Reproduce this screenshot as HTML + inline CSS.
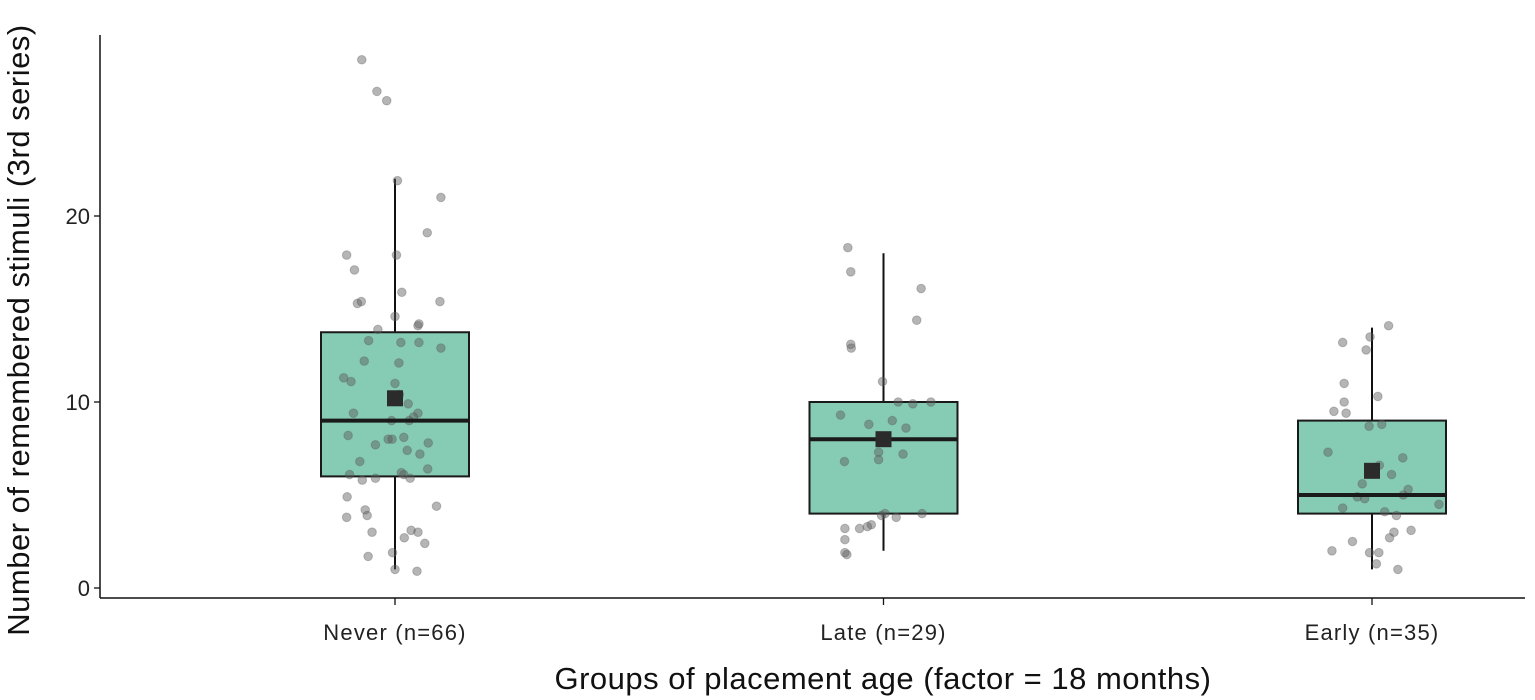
<!DOCTYPE html>
<html><head><meta charset="utf-8"><style>
html,body{margin:0;padding:0;background:#fff;}
svg{display:block;font-family:"Liberation Sans",sans-serif;}
</style></head><body>
<svg id="chart" width="1535" height="700" viewBox="0 0 1535 700"></svg>
<script>
const categories = ["Never (n=66)", "Late (n=29)", "Early (n=35)"];
const q1 = [6, 4, 4];
const medians = [9, 8, 5];
const q3 = [13.75, 10, 9];
const whiskerLow = [1, 2, 1];
const whiskerHigh = [22, 18, 14];
const means = [10.2, 8, 6.3];
const yTicks = [0, 10, 20];
// jittered observations: group index, jitter offset (category units), value
const ptGroup = [
0,0,0,0,0,0,0,0,0,0,0,0,0,0,0,0,0,0,0,0,0,0,0,0,0,0,0,0,0,0,0,0,0,0,0,0,0,0,0,0,0,0,0,0,0,0,0,0,0,0,0,0,0,0,0,0,0,0,0,0,0,0,0,0,
1,1,1,1,1,1,1,1,1,1,1,1,1,1,1,1,1,1,1,1,1,1,1,1,1,1,1,1,1,
2,2,2,2,2,2,2,2,2,2,2,2,2,2,2,2,2,2,2,2,2,2,2,2,2,2,2,2,2,2,2,2,2,2,2];
const ptJitter = [
-0.068,-0.037,-0.017,0.005,0.094,0.066,-0.099,0.003,-0.083,0.014,-0.069,-0.077,0.092,0.0,0.047,-0.035,0.049,
-0.054,0.012,0.049,0.094,-0.063,0.008,-0.105,-0.09,0.009,0.027,0.047,0.038,-0.007,-0.085,0.029,-0.096,0.018,-0.04,-0.014,-0.006,0.025,0.051,0.068,-0.072,0.018,0.067,
-0.098,-0.099,-0.061,-0.057,0.085,-0.047,0.019,0.033,0.047,0.061,-0.005,-0.055,0.0,0.045,0.031,-0.04,0.013,-0.093,-0.067,
0.0,0.0,
-0.073,-0.067,0.077,0.068,-0.067,-0.066,-0.002,-0.088,0.03,-0.03,0.018,0.06,-0.01,-0.08,0.046,0.097,
-0.079,-0.079,-0.079,-0.075,-0.049,-0.025,-0.004,-0.033,0.026,0.079,-0.01,0.04,0.003,
0.034,-0.06,-0.004,-0.012,-0.057,-0.057,0.012,-0.078,-0.053,-0.006,0.063,0.015,-0.09,0.04,0.074,-0.03,-0.005,
-0.082,0.014,0.053,0.009,0.045,0.036,0.026,0.064,0.137,-0.06,-0.02,0.02,-0.015,-0.04,0.05,0.08,0.09,-0.03];
const ptValue = [
28.4,26.7,26.2,21.9,21.0,19.1,17.9,17.9,17.1,15.9,15.4,15.3,15.4,14.6,14.1,13.9,14.2,
13.3,13.2,13.2,12.9,12.2,12.1,11.3,11.1,10.4,9.9,9.4,9.2,9.0,9.4,9.0,8.2,8.1,7.7,8.0,8.0,7.4,7.2,7.8,6.8,6.1,6.4,
4.9,3.8,4.2,3.9,4.4,3.0,2.7,3.1,3.0,2.4,1.9,1.7,1.0,0.9,5.9,5.9,6.2,6.1,5.8,
11.0,10.2,
18.3,17.0,16.1,14.4,13.1,12.9,11.1,9.3,10.0,8.8,9.0,9.9,7.3,6.8,8.6,10.0,
3.2,2.6,1.9,1.8,3.2,3.4,3.9,3.3,3.8,4.0,6.9,7.2,4.0,
14.1,13.2,13.5,12.8,11.0,10.0,10.3,9.5,9.4,8.7,7.0,6.6,7.3,6.1,5.3,4.9,
1.9,2.0,1.9,1.0,1.3,3.0,2.7,4.1,5.0,4.5,4.3,5.6,8.8,4.8,2.5,3.9,3.1];

const NS = "http://www.w3.org/2000/svg";
const svg = document.getElementById("chart");
const plotL = 100, plotR = 1525, plotT = 35, plotB = 598;
const y = v => 588 - v * 18.6;
const catX = i => 395 + i * 488.5;
const bandPx = 488.5;
const boxHalf = 74;
function mk(tag, attrs, parent) {
  const el = document.createElementNS(NS, tag);
  for (const k in attrs) el.setAttribute(k, attrs[k]);
  (parent || svg).appendChild(el);
  return el;
}
let ax = mk("line", {x1: plotL, y1: plotT, x2: plotL, y2: plotB, stroke: "#111", "stroke-width": 1.5});


ax = mk("line", {x1: plotL, y1: plotB, x2: plotR, y2: plotB, stroke: "#111", "stroke-width": 1.5});


yTicks.forEach(t => {
  const tk = mk("line", {x1: plotL - 6, x2: plotL, y1: y(t), y2: y(t), stroke: "#111", "stroke-width": 1.3});
  
  
  const tl = mk("text", {x: plotL - 10, y: y(t) + 8, "text-anchor": "end", "font-size": 22, fill: "#222"});
  tl.textContent = t;
  
  
});
categories.forEach((c, i) => {
  const cx = catX(i);
  const tk = mk("line", {x1: cx, x2: cx, y1: plotB, y2: plotB + 7, stroke: "#111", "stroke-width": 1.3});
  
  
  const tl = mk("text", {x: cx, y: 640, "text-anchor": "middle", "font-size": 22, "letter-spacing": 1.2, fill: "#222"});
  tl.textContent = c;
  
  
  const w = mk("line", {x1: cx, x2: cx, y1: y(whiskerLow[i]), y2: y(whiskerHigh[i]), stroke: "#111", "stroke-width": 2});
  
  
  const b = mk("rect", {x: cx - boxHalf, y: y(q3[i]), width: boxHalf * 2, height: y(q1[i]) - y(q3[i]), fill: "#86cbb4", stroke: "#1a1a1a", "stroke-width": 2});
  
  
});
ptValue.forEach((v, k) => {
  const p = mk("circle", {cx: catX(ptGroup[k]) + ptJitter[k] * bandPx, cy: y(v), r: 4.3, fill: "rgba(90,90,90,0.45)", stroke: "rgba(90,90,90,0.35)", "stroke-width": 1});
  
  
});
categories.forEach((c, i) => {
  const cx = catX(i);
  const m = mk("line", {x1: cx - boxHalf, x2: cx + boxHalf, y1: y(medians[i]), y2: y(medians[i]), stroke: "#1a1a1a", "stroke-width": 4});
  
  
  const mn = mk("rect", {x: cx - 8, y: y(means[i]) - 8, width: 16, height: 16, fill: "#2b2b2b"});
  
  
});
let t = mk("text", {x: 883, y: 689, "text-anchor": "middle", "font-size": 31, "letter-spacing": 0.5, fill: "#111"});
t.textContent = "Groups of placement age (factor = 18 months)";


t = mk("text", {x: 0, y: 0, "text-anchor": "middle", "font-size": 31, "letter-spacing": 0.5, fill: "#111", transform: "translate(29,330) rotate(-90)"});
t.textContent = "Number of remembered stimuli (3rd series)";


</script>
</body></html>
